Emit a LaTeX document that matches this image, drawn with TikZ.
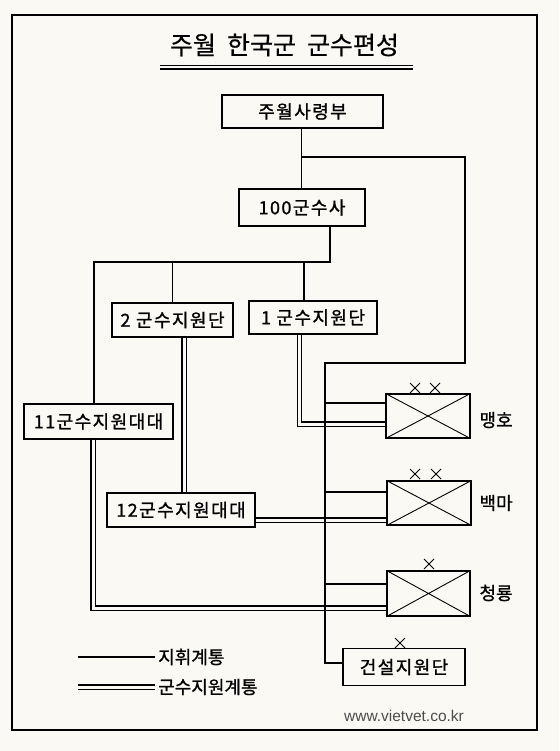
\documentclass[tikz,border=0pt]{standalone}
\usepackage{fontspec}
\setmainfont{Liberation Sans}
\newfontfamily\kr[FakeBold=1.0]{Noto Sans CJK KR}
\newfontfamily\krt[FakeBold=0.4]{Noto Sans CJK KR}
\newfontfamily\krsp[LetterSpace=8,FakeBold=1.2]{Noto Sans CJK KR}
\usetikzlibrary{calc}
\definecolor{paper}{HTML}{FAF9F4}
\begin{document}
\begin{tikzpicture}[x=1pt,y=-1pt,
  cmd/.style={line width=1.1pt},
  sup/.style={double=paper, double distance=3pt, line width=1.1pt},
  box/.style={draw, line width=1.2pt, inner sep=0pt, fill=paper, font=\krsp\fontsize{18}{20}\selectfont},
  unit/.style={draw, line width=1.1pt, inner sep=0pt},
  lbl/.style={font=\kr\fontsize{18}{20}\selectfont},
  xm/.style={line width=0.9pt}]
\fill[paper] (0,0) rectangle (559,751);
\useasboundingbox (0,0) rectangle (559,751);
\draw[line width=1.3pt] (12,15) rectangle (537,730);

% title
\node[font=\krt\fontsize{25}{30}\selectfont] (title) at (284.5,45) {주월\hspace{11pt}한국군\hspace{11pt}군수편성};
\draw[line width=0.7pt] (160,65) -- (413,65);
\draw[line width=1.4pt] (160,69) -- (413,69);

% boxes
\node[box, minimum width=161pt, minimum height=33pt] (hq) at (302.5,111.5) {주월사령부};
\node[box, minimum width=126pt, minimum height=37pt] (s100) at (302,207.5) {100군수사};
\node[box, minimum width=121pt, minimum height=34pt] (sup2) at (172.5,320) {2 군수지원단};
\node[box, minimum width=128pt, minimum height=33pt] (sup1) at (313,317.5) {1 군수지원단};
\node[box, minimum width=149pt, minimum height=35pt] (n11) at (98.5,421.5) {11군수지원대대};
\node[box, minimum width=148pt, minimum height=34pt] (n12) at (181,510) {12군수지원대대};
\node[box, minimum width=122pt, minimum height=37pt] (con) at (404,667) {건설지원단};

% unit symbols
\node[unit, minimum width=84pt, minimum height=44pt] (mh) at (428,416) {};
\node[unit, minimum width=84pt, minimum height=44pt] (bm) at (429,503) {};
\node[unit, minimum width=83pt, minimum height=45pt] (cr) at (428.5,593.5) {};
\foreach \u in {mh,bm,cr}{
  \draw[line width=0.9pt] (\u.north west) -- (\u.south east) (\u.north east) -- (\u.south west);
}
\node[lbl, anchor=west] (mhl) at (476,420) {맹호};
\node[lbl, anchor=west] (bml) at (476,503) {백마};
\node[lbl, anchor=west] (crl) at (476,593) {청룡};

% x marks above
\foreach \cx/\cy in {415/388, 435/388, 415/474, 436/474, 429/564, 400/643}{
  \draw[xm] (\cx-5,\cy-5) -- (\cx+5,\cy+5) (\cx-5,\cy+5) -- (\cx+5,\cy-5);
}

% support lines (double)
\coordinate (d2) at ($(sup2.south)+(11.5,0)$);
\coordinate (d12) at ($(n12.east)+(0,10)$);
\draw[sup] (d2) -- (d2 |- n12.north);
\draw[sup] ($(sup1.south)+(-13.5,0)$) |- ($(mh.west)+(0,8)$);
\draw[sup] (d12) -- (d12 -| bm.west);
\draw[sup] ($(n11.south)+(-5.5,0)$) |- ($(cr.west)+(0,14.5)$);

% command lines
\coordinate (busL) at (94,262);
\coordinate (busR) at (330,262);
\coordinate (t1) at (301,157);
\coordinate (t2) at (465,157);
\coordinate (t3) at (465,363);
\coordinate (t4) at (325,363);
\coordinate (h0) at ($(hq.south)+(-1,0)$);
\draw[cmd] (h0) -- (h0 |- s100.north);
\draw[cmd] (h0 |- t1) -- (t2) -- (t3) -- (t4) -- (t4 |- {$(con.west)+(0,-4)$}) -- ($(con.west)+(0,-4)$);
\draw[cmd] (t4 |- {$(mh.west)+(0,-13)$}) -- ($(mh.west)+(0,-13)$);
\draw[cmd] (t4 |- {$(bm.west)+(0,-11)$}) -- ($(bm.west)+(0,-11)$);
\draw[cmd] (t4 |- {$(cr.west)+(0,-9.5)$}) -- ($(cr.west)+(0,-9.5)$);
\draw[cmd] (s100.south -| busR) -- (busR) -- (busL) -- (busL |- n11.north);
\draw[cmd] (sup2.north |- busL) -- (sup2.north);
\coordinate (c1) at ($(sup1.north)+(-9,0)$);
\draw[cmd] (c1 |- busL) -- (c1);

% legend
\node[lbl, anchor=west, inner sep=3pt] (lg1) at (155,657) {지휘계통};
\node[lbl, anchor=west, inner sep=3pt] (lg2) at (155,687) {군수지원계통};
\coordinate (lg1s) at (78,657);
\coordinate (lg2s) at (78,687);
\draw[cmd] (lg1s) -- (lg1.west);
\draw[sup] (lg2s) -- (lg2.west);

\node[font=\fontsize{15.5}{18}\selectfont, text=black!70] (web) at (404,716) {www.vietvet.co.kr};
\end{tikzpicture}
\end{document}
